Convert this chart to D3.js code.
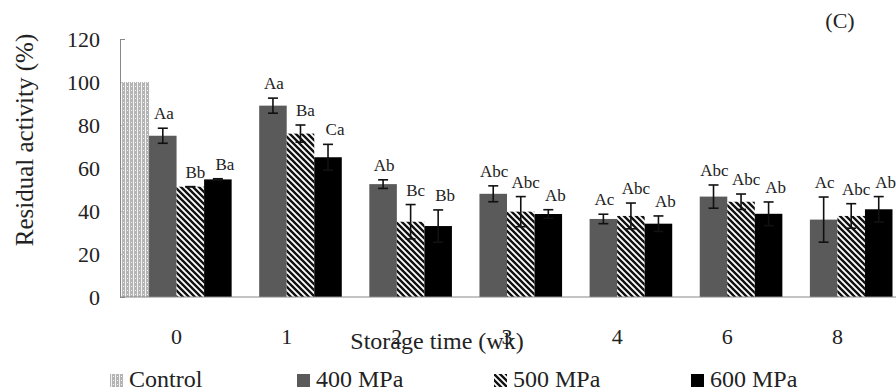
<!DOCTYPE html>
<html>
<head>
<meta charset="utf-8">
<script src="https://cdn.jsdelivr.net/npm/d3@7"></script>
<style>
  body { margin: 0; background: #fff; }
</style>
</head>
<body>
<script>
var w = 896;
var h = 392;
var serif = "'Liberation Serif', 'Times New Roman', Times, 'DejaVu Serif', serif";

// storage weeks and series
var weeks = ["0", "1", "2", "3", "4", "6", "8"];
var seriesNames = ["Control", "400 MPa", "500 MPa", "600 MPa"];

// residual activity (%)
var control = [100, null, null, null, null, null, null];
var p400 = [75, 89, 52.5, 48, 36.3, 46.7, 36];
var p500 = [51.3, 76, 35, 39.7, 37.7, 44.3, 37.7];
var p600 = [54.7, 65, 33, 38.6, 34.1, 38.7, 40.8];

// standard deviations
var err400 = [3.5, 3.5, 2, 3.7, 2.2, 5.4, 10.5];
var err500 = [0, 4, 8, 7, 6, 3.6, 5.7];
var err600 = [0.3, 6, 7.5, 2, 3.6, 5.5, 5.9];

// significance letters
var lab400 = ["Aa", "Aa", "Ab", "Abc", "Ac", "Abc", "Ac"];
var lab500 = ["Bb", "Ba", "Bc", "Abc", "Abc", "Abc", "Abc"];
var lab600 = ["Ba", "Ca", "Bb", "Ab", "Ab", "Ab", "Ab"];

var yTicks = [0, 20, 40, 60, 80, 100, 120];

var values = [control, p400, p500, p600];
var errs = [null, err400, err500, err600];
var labels = [null, lab400, lab500, lab600];

var rows = [];
weeks.forEach(function (wk, i) {
  seriesNames.forEach(function (s, j) {
    if (values[j][i] == null) return;
    rows.push({
      week: wk,
      series: s,
      value: values[j][i],
      err: errs[j] ? errs[j][i] : null,
      label: labels[j] ? labels[j][i] : null
    });
  });
});

var fills = {
  "Control": "url(#dots)",
  "400 MPa": "#5a5a5a",
  "500 MPa": "url(#stripes)",
  "600 MPa": "#000"
};
var labelShift = { "400 MPa": 1, "500 MPa": 5, "600 MPa": 7 };

var x0 = d3.scaleBand()
  .domain(weeks)
  .range([121.5, 892.5])
  .padding(0);

var x1 = d3.scaleBand()
  .domain(seriesNames)
  .range([0, x0.bandwidth()]);

var y = d3.scaleLinear()
  .domain([0, 120])
  .range([297, 39]);

var svg = d3.select("body").append("svg")
  .attr("width", w)
  .attr("height", h)
  .attr("font-family", serif);

var defs = svg.append("defs");

var dots = defs.append("pattern")
  .attr("id", "dots")
  .attr("patternUnits", "userSpaceOnUse")
  .attr("width", 4)
  .attr("height", 4);
dots.append("rect").attr("width", 4).attr("height", 4).attr("fill", "#b4b4b4");
dots.append("rect").attr("x", 1).attr("width", 1).attr("height", 4).attr("fill", "#f4f4f4");
dots.append("rect").attr("x", 3).attr("y", 2).attr("width", 1).attr("height", 1).attr("fill", "#f4f4f4");

var stripes = defs.append("pattern")
  .attr("id", "stripes")
  .attr("patternUnits", "userSpaceOnUse")
  .attr("width", 6)
  .attr("height", 6);
stripes.append("rect").attr("width", 6).attr("height", 6).attr("fill", "#fff");
stripes.append("path")
  .attr("d", "M0,0L6,6M-1,5L1,7M5,-1L7,1")
  .attr("stroke", "#111")
  .attr("stroke-width", 2.4);

// y axis
var yAxis = svg.append("g")
  .attr("transform", "translate(120,0)")
  .call(d3.axisLeft(y).tickValues(yTicks).tickSize(5).tickSizeOuter(0).tickPadding(15));
yAxis.attr("font-family", serif).attr("font-size", 22);
yAxis.select(".domain").attr("stroke", "#888");
yAxis.selectAll(".tick line").attr("x2", 5).attr("stroke", "#888");
yAxis.selectAll(".tick text").attr("fill", "#222");

// bars
var bars = svg.append("g");
bars.selectAll("rect")
  .data(rows)
  .enter()
  .append("rect")
  .attr("x", function (d) { return x0(d.week) + x1(d.series); })
  .attr("y", function (d) { return y(d.value); })
  .attr("width", x1.bandwidth())
  .attr("height", function (d) { return y(0) - y(d.value); })
  .attr("fill", function (d) { return fills[d.series]; });

// x axis
var xAxis = svg.append("g")
  .attr("transform", "translate(0,297)")
  .call(d3.axisBottom(x0).tickSize(0).tickPadding(31));
xAxis.attr("font-family", serif).attr("font-size", 22);
xAxis.select(".domain").remove();
xAxis.selectAll(".tick text").attr("fill", "#222");
svg.append("line")
  .attr("x1", 120).attr("x2", 896)
  .attr("y1", y(0)).attr("y2", y(0))
  .attr("stroke", "#888");

// error bars
var eb = rows.filter(function (d) { return d.err != null; });
var errG = svg.append("g").attr("stroke", "#111").attr("stroke-width", 1.6);
errG.selectAll(".stem")
  .data(eb)
  .enter()
  .append("line")
  .attr("x1", function (d) { return x0(d.week) + x1(d.series) + x1.bandwidth() / 2; })
  .attr("x2", function (d) { return x0(d.week) + x1(d.series) + x1.bandwidth() / 2; })
  .attr("y1", function (d) { return y(d.value + d.err); })
  .attr("y2", function (d) { return y(d.value - d.err); });
[1, -1].forEach(function (sign) {
  errG.selectAll(".cap" + sign)
    .data(eb)
    .enter()
    .append("line")
    .attr("x1", function (d) { return x0(d.week) + x1(d.series) + x1.bandwidth() / 2 - 5; })
    .attr("x2", function (d) { return x0(d.week) + x1(d.series) + x1.bandwidth() / 2 + 5; })
    .attr("y1", function (d) { return y(d.value + sign * d.err); })
    .attr("y2", function (d) { return y(d.value + sign * d.err); });
});

// significance letters
svg.append("g").selectAll("text")
  .data(rows.filter(function (d) { return d.label; }))
  .enter()
  .append("text")
  .attr("x", function (d) { return x0(d.week) + x1(d.series) + x1.bandwidth() / 2 + labelShift[d.series]; })
  .attr("y", function (d) { return y(d.value + d.err) - 9; })
  .attr("text-anchor", "middle")
  .attr("font-size", 17)
  .attr("fill", "#222")
  .text(function (d) { return d.label; });

// titles
svg.append("text")
  .attr("transform", "translate(33,140) rotate(-90)")
  .attr("text-anchor", "middle")
  .attr("font-size", 25)
  .attr("fill", "#222")
  .text("Residual activity (%)");

svg.append("text")
  .attr("x", 437)
  .attr("y", 349)
  .attr("text-anchor", "middle")
  .attr("font-size", 24)
  .attr("fill", "#222")
  .text("Storage time (wk)");

svg.append("text")
  .attr("x", 840)
  .attr("y", 28)
  .attr("text-anchor", "middle")
  .attr("font-size", 22)
  .attr("fill", "#222")
  .text("(C)");

// legend
var legendX = [110, 297, 494, 691];
var legend = svg.append("g").selectAll("g")
  .data(seriesNames)
  .enter()
  .append("g")
  .attr("transform", function (d, i) { return "translate(" + legendX[i] + ",374)"; });
legend.append("rect")
  .attr("width", 13)
  .attr("height", 13)
  .attr("fill", function (d) { return fills[d]; });
legend.append("text")
  .attr("x", 19)
  .attr("y", 13)
  .attr("font-size", 24)
  .attr("fill", "#222")
  .text(function (d) { return d; });
</script>
</body>
</html>
